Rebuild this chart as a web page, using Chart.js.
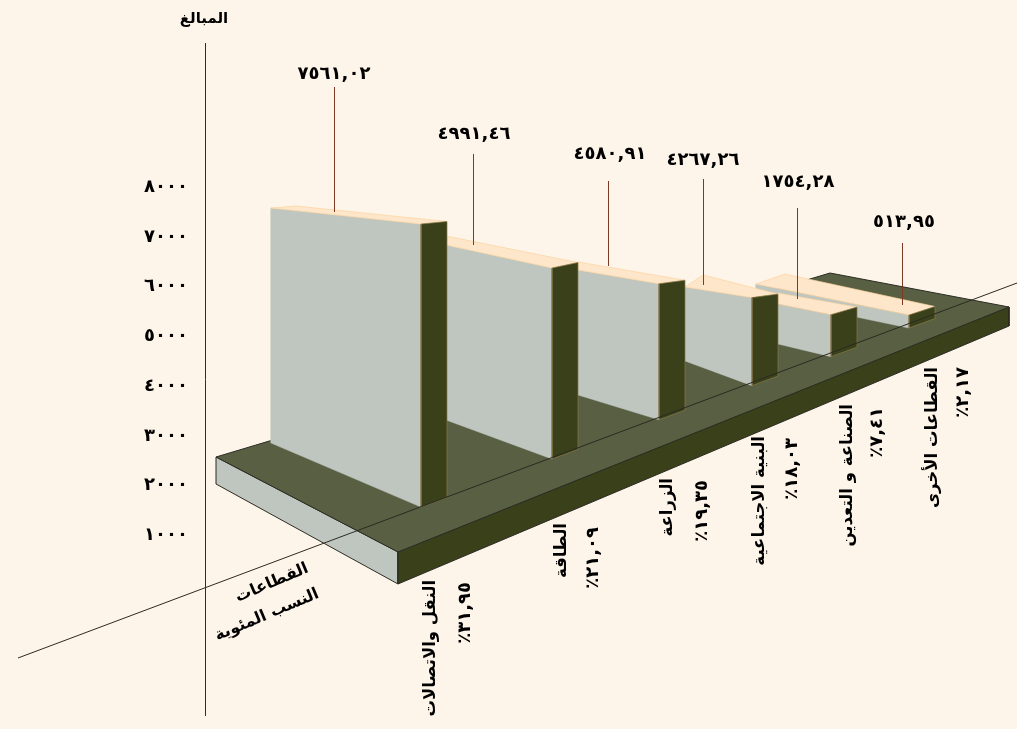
<!DOCTYPE html>
<html lang="ar">
<head>
<meta charset="utf-8">
<title>المبالغ حسب القطاعات</title>
<script src="https://cdn.jsdelivr.net/npm/chart.js@4/dist/chart.umd.js"></script>
<style>
  html, body { margin: 0; padding: 0; background: #FEF5EA; overflow: hidden; }
  canvas { display: block; }
</style>
</head>
<body>
<canvas id="chart" width="1017" height="729"></canvas>
<script>
// values as printed on the chart
const sectorNames = ['النقل والاتصالات', 'الطاقة', 'الزراعة', 'البنية الاجتماعية', 'الصناعة و التعدين', 'القطاعات الأخرى'];
const sectorShares = ['٪٣١,٩٥', '٪٢١,٠٩', '٪١٩,٣٥', '٪١٨,٠٣', '٪٧,٤١', '٪٢,١٧'];
const sectorAmounts = ['٧٥٦١,٠٢', '٤٩٩١,٤٦', '٤٥٨٠,٩١', '٤٢٦٧,٢٦', '١٧٥٤,٢٨', '٥١٣,٩٥'];
const amountTicks = [1000, 2000, 3000, 4000, 5000, 6000, 7000, 8000];
const amountTickLabels = ['١٠٠٠', '٢٠٠٠', '٣٠٠٠', '٤٠٠٠', '٥٠٠٠', '٦٠٠٠', '٧٠٠٠', '٨٠٠٠'];

// wall readings in axis units: x = depth along the floor, y = amount scale
const wallNearDepth = [216, 347, 454, 547, 626, 704];
const wallFarDepth = [66, 241, 373, 480, 573, 551];
const wallNearHeight = [5694, 3843, 2736, 1771, 845, 262];
const wallFarHeight = [4728, 3521, 2515, 1489, 805, 241];
const wallFarBase = [2857, 3320, 3823, 4507, 4849, 5815];
const wallSideHeight = [5553, 3762, 2616, 1650, 805, 241];
const capBackDepth = [91, 241, 373, 498, 573, 580];
const capBackLevel = [7625, 7022, 6499, 6237, 5875, 6257];
const sideDepth = 26;

// leader lines and label anchors, same units
const leaderDepth = [129.5, 268.5, 403.5, 498.5, 592.5, 697.5];
const leaderTop = [10020, 8672, 8128, 8169, 7585, 6881];
const leaderBottom = [7505, 6841, 6418, 6036, 5754, 5634];
const amountLabelDepth = [129, 269, 405, 498, 593, 699];
const amountLabelLevel = [10280, 9074, 8672, 8551, 8108, 7304];
const nameDepth = [226, 357, 463, 555, 643, 728];
const nameLevel = [101, 1247, 2153, 2998, 3642, 4386];
const shareDepth = [260, 388, 497, 587, 672, 758];
const shareLevel = [60, 1167, 2113, 2958, 3581, 4386];

// floor slab and the sloping category axis
const slabDepth = [11, 193, 804, 625];
const slabTopLevel = [2575, 664, 5593, 6277];
const slabBottomLevel = [2032, 20, 5211];
const categoryAxisDepth = [-187, 812];
const categoryAxisLevel = [-1469, 6076];

const faceColor = '#BFC6BF';
const sideColor = '#39401A';
const floorColor = '#585F42';
const capColor = '#FEE6CB';
const fontFamily = '"DejaVu Sans", sans-serif';

// near bottom corners of all walls sit on one straight floor line
function frontBase(depth) {
    return -26 + 7.38 * depth;
}

function shape(points, fillColor, lineColor, lineWidth) {
    return {
        data: points.concat(points[0]),
        showLine: true,
        fill: 'shape',
        backgroundColor: fillColor,
        borderColor: lineColor,
        borderWidth: lineWidth,
        pointRadius: 0,
        tension: 0
    };
}

function line(points, lineColor, lineWidth) {
    return {
        data: points,
        showLine: true,
        fill: false,
        borderColor: lineColor,
        borderWidth: lineWidth,
        pointRadius: 0,
        tension: 0,
        clip: false
    };
}

// painted from the back to the front, reversed at the end for Chart.js
const layers = [];

layers.push(shape([
    { x: slabDepth[0], y: slabTopLevel[0] },
    { x: slabDepth[1], y: slabTopLevel[1] },
    { x: slabDepth[1], y: slabBottomLevel[1] },
    { x: slabDepth[0], y: slabBottomLevel[0] }
], faceColor, '#2B2B22', 1));
layers.push(shape([
    { x: slabDepth[1], y: slabTopLevel[1] },
    { x: slabDepth[2], y: slabTopLevel[2] },
    { x: slabDepth[2], y: slabBottomLevel[2] },
    { x: slabDepth[1], y: slabBottomLevel[1] }
], sideColor, '#2B2B22', 1));
layers.push(shape(slabDepth.map((d, i) => ({ x: d, y: slabTopLevel[i] })), floorColor, '#2B2B22', 1));

for (let i = wallNearDepth.length - 1; i >= 0; i--) {
    const near = wallNearDepth[i];
    const far = wallFarDepth[i];
    const nearBase = frontBase(near);
    const sideBase = frontBase(near + sideDepth);
    const nearTop = nearBase + wallNearHeight[i];
    const farTop = wallFarBase[i] + wallFarHeight[i];
    const sideTop = sideBase + wallSideHeight[i];

    layers.push(shape([
        { x: far, y: wallFarBase[i] },
        { x: near, y: nearBase },
        { x: near, y: nearTop },
        { x: far, y: farTop }
    ], faceColor, faceColor, 0.5));
    layers.push(shape([
        { x: far, y: farTop },
        { x: capBackDepth[i], y: capBackLevel[i] },
        { x: near + sideDepth, y: sideTop },
        { x: near, y: nearTop }
    ], capColor, '#FBD29D', 0.7));
    layers.push(shape([
        { x: near, y: nearBase },
        { x: near + sideDepth, y: sideBase },
        { x: near + sideDepth, y: sideTop },
        { x: near, y: nearTop }
    ], sideColor, '#8A7A4A', 0.7));
}

leaderDepth.forEach((d, i) => {
    layers.push(line([{ x: d, y: leaderBottom[i] }, { x: d, y: leaderTop[i] }], '#7B3A22', 1));
});
layers.push(line([
    { x: categoryAxisDepth[0], y: categoryAxisLevel[0] },
    { x: categoryAxisDepth[1], y: categoryAxisLevel[1] }
], '#2B2B22', 1));

const textPlugin = {
    id: 'textPlugin',
    afterDatasetsDraw(chart) {
        const { ctx, scales: { x, y } } = chart;

        function put(text, depth, level, font, angle, align, dir, spacing) {
            ctx.save();
            ctx.translate(x.getPixelForValue(depth), y.getPixelForValue(level));
            ctx.rotate(angle);
            ctx.direction = dir;
            ctx.letterSpacing = spacing || '0px';
            ctx.textAlign = align;
            ctx.textBaseline = 'middle';
            ctx.fillStyle = '#000';
            ctx.font = font;
            ctx.fillText(text, 0, 0);
            ctx.restore();
        }

        const upright = -Math.PI / 2;
        sectorAmounts.forEach((t, i) => {
            put(t, amountLabelDepth[i], amountLabelLevel[i], 'bold 18px ' + fontFamily, 0, 'center', 'ltr');
        });
        sectorNames.forEach((t, i) => {
            put(t, nameDepth[i], nameLevel[i], 'bold 16.5px ' + fontFamily, upright, 'right', 'rtl');
        });
        sectorShares.forEach((t, i) => {
            put(t, shareDepth[i], shareLevel[i], 'bold 18px ' + fontFamily, upright, 'right', 'ltr', '1px');
        });
        put('المبالغ', -1, 11388, 'bold 15px ' + fontFamily, 0, 'center', 'rtl');
        put('القطاعات', 67, 40, 'bold 16px ' + fontFamily, -0.4, 'center', 'rtl');
        put('النسب المئوية', 62, -604, 'bold 16px ' + fontFamily, -0.4, 'center', 'rtl');
    }
};

new Chart(document.getElementById('chart'), {
    type: 'scatter',
    data: { datasets: layers.reverse() },
    plugins: [textPlugin],
    options: {
        responsive: false,
        animation: false,
        layout: { padding: { top: 43, bottom: 14, left: 0, right: 0 } },
        plugins: { legend: { display: false }, tooltip: { enabled: false } },
        scales: {
            x: { type: 'linear', min: 0, max: 812, display: false },
            y: {
                type: 'linear',
                min: -2616,
                max: 10905,
                afterBuildTicks: axis => { axis.ticks = amountTicks.map(value => ({ value })); },
                afterFit: axis => {
                    axis.width = 205;
                    axis.paddingTop = 0;
                    axis.paddingBottom = 0;
                },
                grid: { display: false, drawTicks: false },
                border: { display: true, color: '#2B2B33', width: 1 },
                ticks: {
                    autoSkip: false,
                    padding: 17,
                    color: '#000',
                    font: { family: fontFamily, size: 18, weight: 'bold' },
                    callback: (value, index) => amountTickLabels[index]
                }
            }
        }
    }
});
</script>
</body>
</html>
